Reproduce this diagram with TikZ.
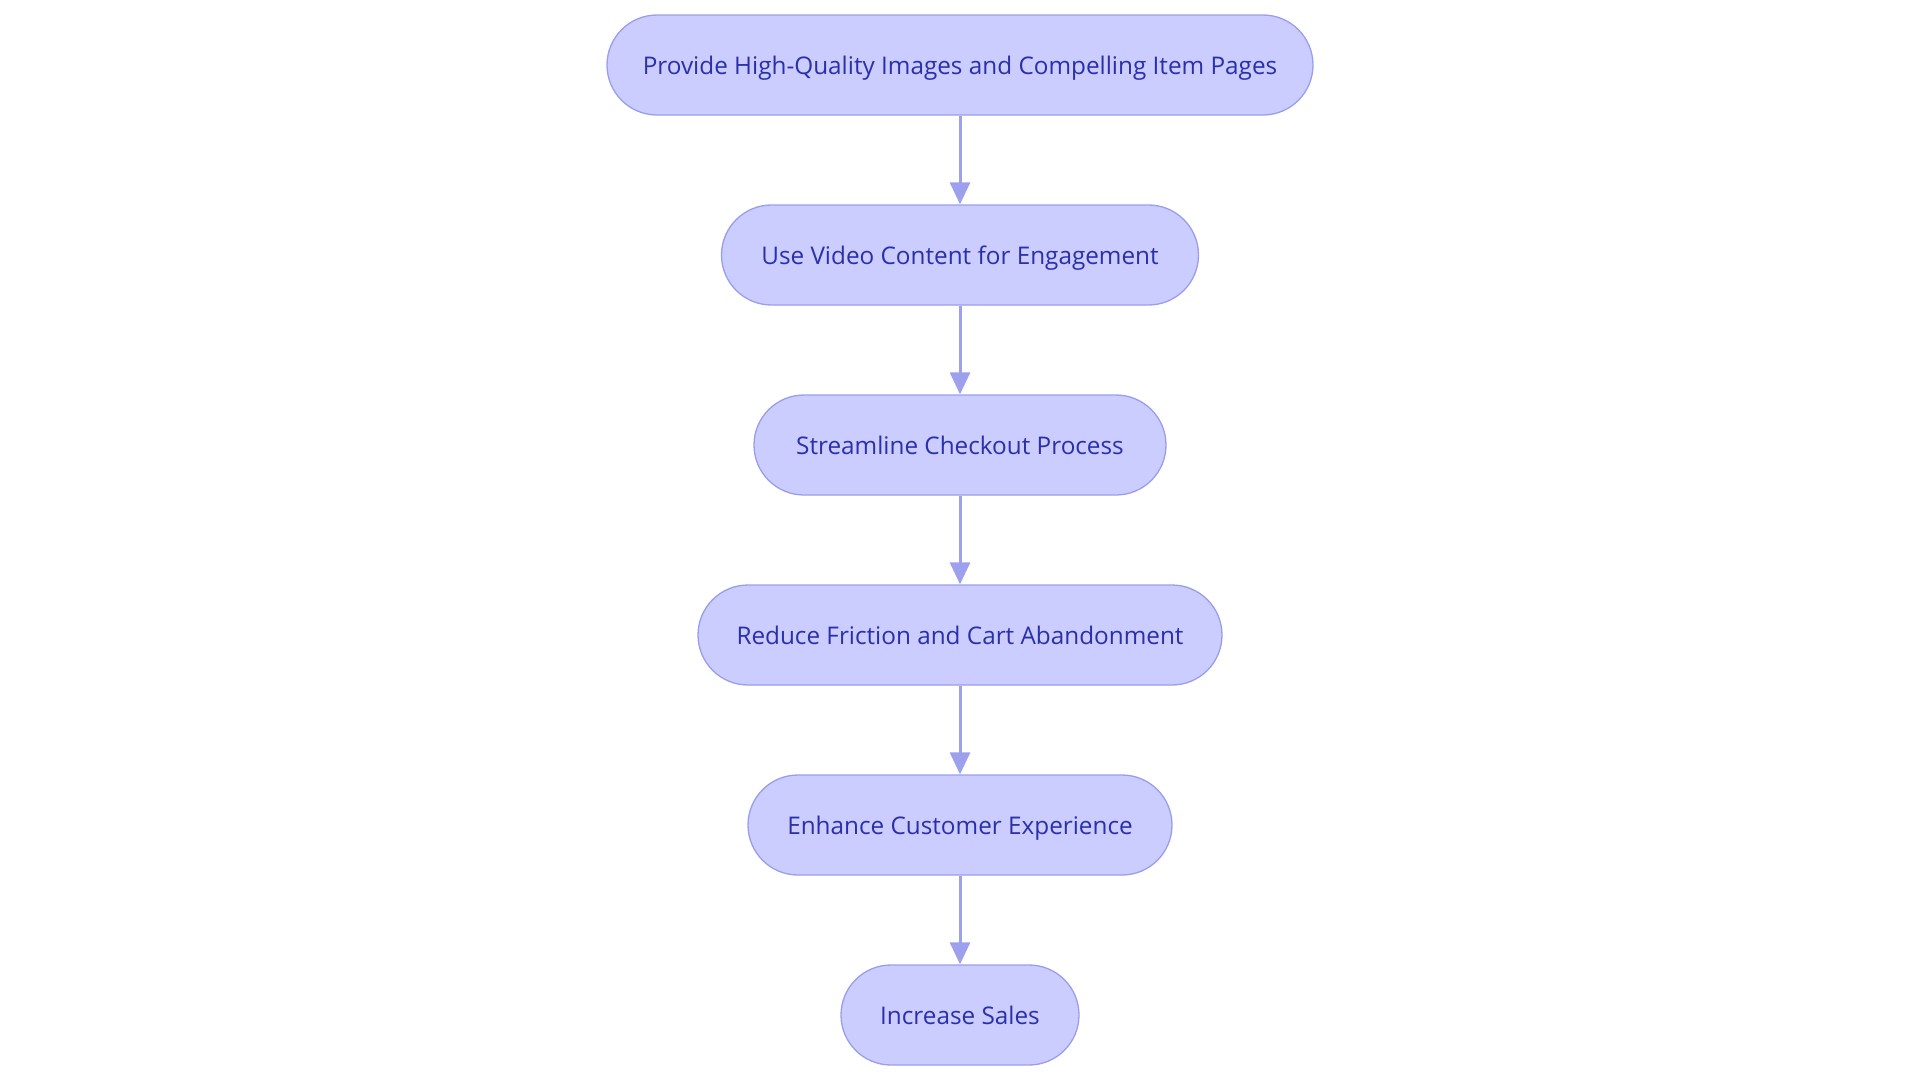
\documentclass[tikz,border=0pt]{standalone}
\usepackage{fontspec}
\setmainfont{Open Sans}
\usetikzlibrary{arrows.meta}
\definecolor{nodefill}{HTML}{CBCCFF}
\definecolor{nodeborder}{HTML}{9A9EEA}
\definecolor{nodetext}{HTML}{2B2FAA}
\definecolor{arrowc}{HTML}{9DA0EC}
\tikzset{
  stage/.style={draw=nodeborder, line width=1.3pt, fill=nodefill, text=nodetext,
    rounded corners=50pt, minimum height=100pt, inner sep=0pt,
    text height=20pt, text depth=2pt,
    font=\fontsize{24.3}{29}\selectfont},
  flow/.style={draw=arrowc, line width=3pt, -{Triangle[width=20pt,length=22pt]}}
}
\begin{document}
\begin{tikzpicture}[x=1pt,y=-1pt]
\useasboundingbox (0,0) rectangle (1920,1080);
\node[stage, minimum width=706pt] (n1) at (960,65) {Provide High-Quality Images and Compelling Item Pages};
\node[stage, minimum width=477pt] (n2) at (960,255) {Use Video Content for Engagement};
\node[stage, minimum width=412pt] (n3) at (960,445) {Streamline Checkout Process};
\node[stage, minimum width=524pt] (n4) at (960,635) {Reduce Friction and Cart Abandonment};
\node[stage, minimum width=424pt] (n5) at (960,825) {Enhance Customer Experience};
\node[stage, minimum width=238pt] (n6) at (960,1015) {Increase Sales};
\draw[flow] (n1) -- (n2);
\draw[flow] (n2) -- (n3);
\draw[flow] (n3) -- (n4);
\draw[flow] (n4) -- (n5);
\draw[flow] (n5) -- (n6);
\end{tikzpicture}
\end{document}
